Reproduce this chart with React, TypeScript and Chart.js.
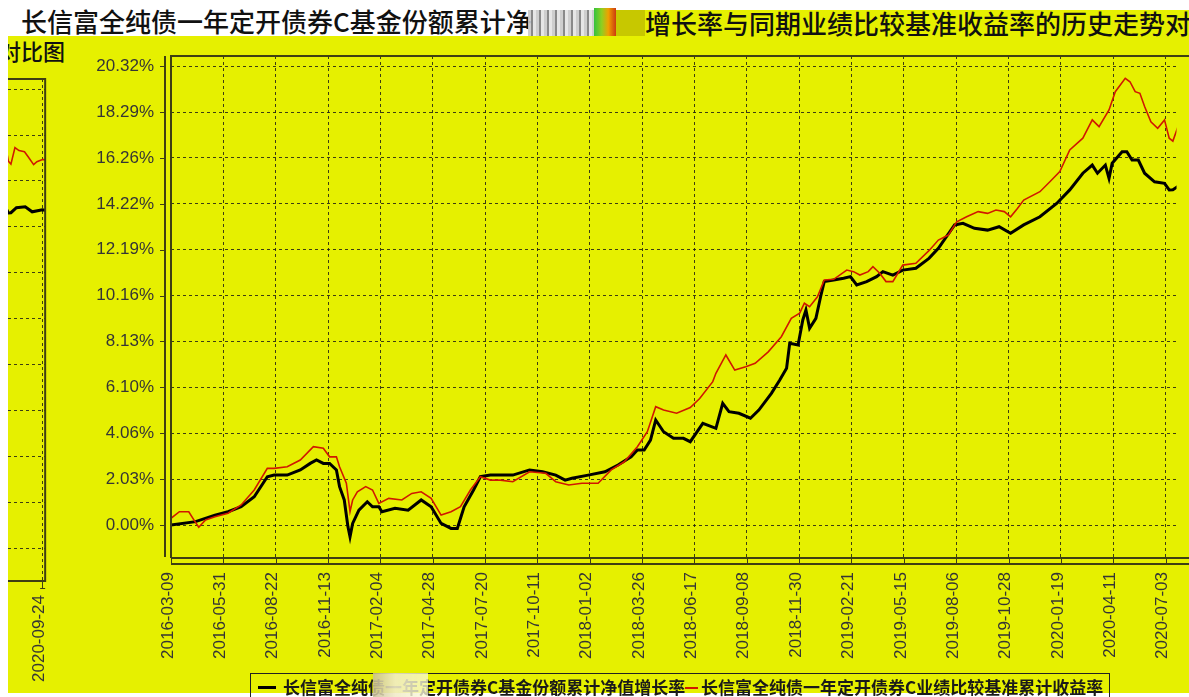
import React, { useEffect, useRef } from "react";
import { Chart, registerables } from "chart.js";

Chart.register(...registerables);

// ---- data ----
const dateLabels = [
  "2016-03-09", "2016-05-31", "2016-08-22", "2016-11-13", "2017-02-04",
  "2017-04-28", "2017-07-20", "2017-10-11", "2018-01-02", "2018-03-26",
  "2018-06-17", "2018-09-08", "2018-11-30", "2019-02-21", "2019-05-15",
  "2019-08-06", "2019-10-28", "2020-01-19", "2020-04-11", "2020-07-03",
  "2020-09-24",
];

const yTickValues = [0, 2.03, 4.06, 6.1, 8.13, 10.16, 12.19, 14.22, 16.26, 18.29, 20.32];

// fund cumulative NAV growth (%), x in label-interval units
const navX = [
  0, 0.47, 0.84, 1.09, 1.34, 1.59, 1.84, 1.97, 2.22, 2.47,
  2.66, 2.78, 2.91, 3.03, 3.16, 3.22, 3.31, 3.38, 3.42, 3.47,
  3.59, 3.75, 3.85, 3.97, 4.03, 4.28, 4.53, 4.78, 4.97, 5.16,
  5.35, 5.47, 5.6, 5.78, 5.91, 6.1, 6.29, 6.53, 6.85, 7.1,
  7.35, 7.53, 7.66, 7.97, 8.29, 8.54, 8.79, 8.91, 9.04, 9.16,
  9.26, 9.41, 9.6, 9.79, 9.92, 10.16, 10.41, 10.54, 10.66, 10.85,
  11.07, 11.23, 11.47, 11.63, 11.76, 11.82, 11.98, 12.07, 12.13, 12.2,
  12.32, 12.41, 12.48, 12.66, 12.85, 12.98, 13.1, 13.29, 13.48, 13.6,
  13.79, 13.98, 14.23, 14.48, 14.66, 14.97, 15.13, 15.35, 15.6, 15.82,
  16.04, 16.29, 16.6, 16.92, 17.17, 17.42, 17.6, 17.7, 17.85, 17.92,
  17.98, 18.17, 18.26, 18.36, 18.48, 18.6, 18.79, 18.98, 19.07, 19.14,
  19.29, 19.53, 19.72, 20.0, 20.1,
];
const navY = [
  0.0, 0.15, 0.44, 0.59, 0.81, 1.25, 2.14, 2.21, 2.21, 2.44,
  2.73, 2.88, 2.73, 2.73, 2.44, 1.7, 1.11, -0.07, -0.52, 0.07,
  0.66, 1.03, 0.81, 0.81, 0.59, 0.74, 0.66, 1.11, 0.81, 0.07,
  -0.15, -0.15, 0.81, 1.55, 2.14, 2.21, 2.21, 2.21, 2.44, 2.36,
  2.21, 1.99, 2.07, 2.21, 2.36, 2.66, 3.02, 3.32, 3.32, 3.76,
  4.65, 4.13, 3.84, 3.84, 3.69, 4.5, 4.28, 5.39, 5.02, 4.95,
  4.73, 5.09, 5.83, 6.42, 6.94, 8.05, 7.97, 9.08, 9.52, 8.71,
  9.15, 10.11, 10.78, 10.85, 10.93, 11.0, 10.63, 10.78, 11.0, 11.22,
  11.07, 11.29, 11.37, 11.81, 12.25, 13.29, 13.36, 13.14, 13.06, 13.21,
  12.92, 13.29, 13.65, 14.24, 14.84, 15.58, 15.94, 15.58, 15.94, 15.35,
  16.02, 16.53, 16.53, 16.16, 16.16, 15.58, 15.2, 15.13, 14.84, 14.85,
  15.07, 15.11, 14.89, 14.98, 14.95,
];

// benchmark cumulative return (%)
const benchX = [
  0, 0.16, 0.34, 0.44, 0.53, 0.66, 0.84, 1.09, 1.34, 1.59,
  1.84, 1.97, 2.22, 2.47, 2.72, 2.91, 3.03, 3.16, 3.22, 3.35,
  3.42, 3.47, 3.56, 3.72, 3.85, 3.97, 4.16, 4.41, 4.6, 4.78,
  4.97, 5.16, 5.35, 5.53, 5.72, 5.91, 6.1, 6.29, 6.53, 6.85,
  7.16, 7.35, 7.6, 7.85, 8.16, 8.41, 8.66, 8.91, 9.1, 9.26,
  9.41, 9.66, 9.92, 10.1, 10.35, 10.41, 10.6, 10.77, 10.98, 11.16,
  11.41, 11.66, 11.85, 12.01, 12.1, 12.2, 12.35, 12.48, 12.66, 12.91,
  13.04, 13.16, 13.32, 13.41, 13.54, 13.66, 13.79, 13.98, 14.23, 14.48,
  14.66, 14.85, 15.01, 15.2, 15.42, 15.6, 15.76, 15.92, 16.04, 16.17,
  16.29, 16.6, 16.79, 16.98, 17.17, 17.42, 17.6, 17.73, 17.92, 18.04,
  18.23, 18.32, 18.42, 18.51, 18.6, 18.72, 18.85, 18.98, 19.07, 19.14,
  19.25, 19.36, 19.51, 19.61, 19.76, 19.85, 20.0, 20.1,
];
const benchY = [
  0.3, 0.59, 0.59, 0.22, -0.1, 0.22, 0.37, 0.52, 0.89, 1.55,
  2.51, 2.51, 2.58, 2.88, 3.47, 3.4, 3.02, 3.02, 2.58, 1.85,
  0.59, 1.11, 1.47, 1.7, 1.55, 0.96, 1.18, 1.11, 1.4, 1.47,
  1.18, 0.44, 0.59, 0.81, 1.55, 2.14, 1.99, 1.99, 1.92, 2.36,
  2.29, 1.92, 1.77, 1.85, 1.85, 2.44, 2.8, 3.47, 4.13, 5.24,
  5.09, 4.95, 5.2, 5.6, 6.35, 6.72, 7.53, 6.86, 7.01, 7.16,
  7.67, 8.34, 9.15, 9.38, 9.82, 9.67, 10.11, 10.85, 10.88, 11.29,
  11.22, 11.07, 11.22, 11.44, 11.15, 10.78, 10.78, 11.51, 11.59, 12.15,
  12.62, 12.84, 13.43, 13.65, 13.88, 13.8, 13.95, 13.88, 13.65, 14.02,
  14.39, 14.76, 15.2, 15.65, 16.61, 17.13, 17.94, 17.64, 18.38, 19.19,
  19.78, 19.63, 19.19, 19.12, 18.53, 17.86, 17.57, 17.94, 17.13, 17.0,
  17.73, 17.6, 17.55, 17.33, 16.98, 17.11, 17.2, 17.2,
];

const titleLeft = "长信富全纯债一年定开债券C基金份额累计净";
const titleRight = "增长率与同期业绩比较基准收益率的历史走势对";
const titleTail = "对比图";
const legendNav = "长信富全纯债一年定开债券C基金份额累计净值增长率";
const legendBench = "长信富全纯债一年定开债券C业绩比较基准累计收益率";

// ---- styles ----
const YELLOW = "#e6f000";
const AXIS = "#3f3f12";
const GRID = "rgba(30,30,20,0.85)";
const TEXT = "#353535";
const RED = "#d01800";
const TICK_FONT = { family: "'Liberation Sans', Arial, sans-serif", size: 17 };

function series(xs: number[], ys: number[]) {
  const n = Math.min(xs.length, ys.length);
  const out: { x: number; y: number }[] = [];
  for (let i = 0; i < n; i++) out.push({ x: xs[i], y: ys[i] });
  return out;
}

function framePlugin(kind: "main" | "mini") {
  return {
    id: "frame-" + kind,
    afterDraw(chart: any) {
      const { ctx, chartArea: a, scales } = chart;
      ctx.save();
      ctx.strokeStyle = AXIS;
      ctx.lineWidth = 2;
      ctx.beginPath();
      if (kind === "main") {
        ctx.moveTo(a.left, a.bottom);
        ctx.lineTo(a.left, a.top);
        ctx.lineTo(a.right + 20, a.top);
        ctx.moveTo(a.left, a.bottom);
        ctx.lineTo(a.right + 20, a.bottom);
        ctx.moveTo(a.left - 6, a.top);
        ctx.lineTo(a.left - 6, a.bottom - 1);
        ctx.moveTo(a.left, a.bottom + 6);
        ctx.lineTo(a.right + 20, a.bottom + 6);
        ctx.stroke();
        ctx.lineWidth = 1;
        ctx.beginPath();
        for (const v of yTickValues) {
          const y = Math.round(scales.y.getPixelForValue(v)) + 0.5;
          ctx.moveTo(a.left - 11, y);
          ctx.lineTo(a.left - 6, y);
        }
        for (const t of scales.x.ticks) {
          const x = Math.round(scales.x.getPixelForValue(t.value)) + 0.5;
          ctx.moveTo(x, a.bottom);
          ctx.lineTo(x, a.bottom + 6);
        }
        ctx.stroke();
      } else {
        ctx.moveTo(a.left - 5, a.top);
        ctx.lineTo(a.right, a.top);
        ctx.lineTo(a.right, a.bottom);
        ctx.lineTo(a.left - 5, a.bottom);
        ctx.stroke();
        ctx.lineWidth = 1;
        ctx.beginPath();
        for (const t of scales.x.ticks) {
          const x = Math.round(scales.x.getPixelForValue(t.value)) + 0.5;
          ctx.moveTo(x, a.bottom);
          ctx.lineTo(x, a.bottom + 8);
        }
        ctx.moveTo(a.right - 5, a.bottom + 7.5);
        ctx.lineTo(a.right, a.bottom + 7.5);
        ctx.stroke();
      }
      ctx.restore();
    },
  };
}

function buildConfig(opts: {
  kind: "main" | "mini";
  xMin: number;
  xMax: number;
  xTickIdx: number[];
  padding: { top: number; left: number; right: number; bottom: number };
  yWidth: number;
  xHeight: number;
}) {
  const showY = opts.kind === "main";
  return {
    type: "line" as const,
    data: {
      datasets: [
        {
          label: legendBench,
          data: series(benchX, benchY),
          borderColor: RED,
          borderWidth: 1.6,
          pointRadius: 0,
          tension: 0,
          order: 1,
        },
        {
          label: legendNav,
          data: series(navX, navY),
          borderColor: "#000000",
          borderWidth: 3,
          pointRadius: 0,
          tension: 0,
          order: 2,
        },
      ],
    },
    options: {
      animation: false as const,
      responsive: false,
      devicePixelRatio: 1,
      events: [],
      layout: { padding: opts.padding },
      plugins: { legend: { display: false }, tooltip: { enabled: false }, title: { display: false } },
      scales: {
        x: {
          type: "linear" as const,
          min: opts.xMin,
          max: opts.xMax,
          afterBuildTicks: (s: any) => {
            s.ticks = opts.xTickIdx.map((v) => ({ value: v }));
          },
          afterFit: (s: any) => {
            s.height = opts.xHeight;
          },
          ticks: {
            autoSkip: false,
            minRotation: 90,
            maxRotation: 90,
            padding: 14,
            labelOffset: -3,
            color: TEXT,
            font: TICK_FONT,
            callback: (v: any) => dateLabels[Math.round(Number(v))] ?? "",
          },
          grid: { color: GRID, lineWidth: 1, drawTicks: false },
          border: { display: false, dash: [3, 3] },
        },
        y: {
          type: "linear" as const,
          min: -1.46,
          max: 20.77,
          afterBuildTicks: (s: any) => {
            s.ticks = yTickValues.map((v) => ({ value: v }));
          },
          afterFit: (s: any) => {
            s.width = opts.yWidth;
          },
          ticks: {
            display: showY,
            padding: 17,
            color: TEXT,
            font: TICK_FONT,
            callback: (v: any) => Number(v).toFixed(2) + "%",
          },
          grid: { color: GRID, lineWidth: 1, drawTicks: false },
          border: { display: false, dash: [3, 3] },
        },
      },
    },
    plugins: [framePlugin(opts.kind)],
  };
}

export default function App() {
  const mainRef = useRef<HTMLCanvasElement>(null);
  const miniRef = useRef<HTMLCanvasElement>(null);

  useEffect(() => {
    const charts: Chart[] = [];
    if (mainRef.current) {
      charts.push(
        new Chart(
          mainRef.current,
          buildConfig({
            kind: "main",
            xMin: 0,
            xMax: 19.21,
            xTickIdx: dateLabels.slice(0, 20).map((_, i) => i),
            padding: { top: 56, left: 0, right: 5, bottom: 0 },
            yWidth: 171,
            xHeight: 139,
          }) as any
        )
      );
    }
    if (miniRef.current) {
      charts.push(
        new Chart(
          miniRef.current,
          buildConfig({
            kind: "mini",
            xMin: 19.06,
            xMax: 20.075,
            xTickIdx: [20],
            padding: { top: 79, left: 0, right: 16, bottom: 0 },
            yWidth: 0,
            xHeight: 116,
          }) as any
        )
      );
    }
    return () => charts.forEach((c) => c.destroy());
  }, []);

  const cjk = "'Noto Sans CJK SC', 'Noto Sans', sans-serif";

  return (
    <div
      style={{
        position: "fixed",
        left: 0,
        top: 0,
        width: 1189,
        height: 697,
        overflow: "hidden",
        background: "#ffffff",
      }}
    >
      {/* yellow panels */}
      <div style={{ position: "absolute", left: 8, top: 36, width: 1181, height: 657, background: YELLOW, overflow: "hidden" }}>
        <div
          style={{
            position: "absolute",
            left: -9,
            top: 3,
            fontFamily: cjk,
            fontSize: 22,
            lineHeight: "22px",
            fontWeight: 500,
            color: "#111",
            whiteSpace: "nowrap",
          }}
        >
          {titleTail}
        </div>
      </div>
      <div style={{ position: "absolute", left: 595, top: 10, width: 594, height: 30, background: YELLOW }} />

      {/* title */}
      <div
        style={{
          position: "absolute",
          left: 21,
          top: 8,
          fontFamily: cjk,
          fontSize: 26,
          lineHeight: "26px",
          fontWeight: 500,
          color: "#111",
          whiteSpace: "nowrap",
        }}
      >
        {titleLeft}
      </div>
      <div
        style={{
          position: "absolute",
          left: 645,
          top: 10,
          fontFamily: cjk,
          fontSize: 26,
          lineHeight: "26px",
          fontWeight: 500,
          color: "#111",
          whiteSpace: "nowrap",
        }}
      >
        {titleRight}
      </div>
      {/* title glitch */}
      <div
        style={{
          position: "absolute",
          left: 528,
          top: 10,
          width: 66,
          height: 26,
          background:
            "repeating-linear-gradient(90deg, #c9c9c9 0 3px, #7d7d7d 3px 5px, #e4e4e4 5px 8px), #aaa",
          opacity: 0.9,
        }}
      />
      <div
        style={{
          position: "absolute",
          left: 594,
          top: 8,
          width: 22,
          height: 28,
          background: "linear-gradient(90deg, #35c23d 0%, #8fcf20 35%, #f0a000 65%, #cc3a10 100%)",
        }}
      />
      <div style={{ position: "absolute", left: 616, top: 10, width: 29, height: 26, background: "#c7c800" }} />

      {/* charts */}
      <canvas
        ref={miniRef}
        width={70}
        height={697}
        style={{ position: "absolute", left: 8, top: 0, width: 70, height: 697 }}
      />
      <canvas
        ref={mainRef}
        width={1200}
        height={697}
        style={{ position: "absolute", left: 0, top: 0, width: 1200, height: 697 }}
      />

      {/* legend */}
      <div
        style={{
          position: "absolute",
          left: 250,
          top: 673,
          width: 860,
          height: 40,
          border: "1px solid #222",
          boxSizing: "border-box",
        }}
      />
      <div style={{ position: "absolute", left: 258, top: 686, width: 18, height: 3, background: "#000" }} />
      <div
        style={{
          position: "absolute",
          left: 283,
          top: 678,
          fontFamily: cjk,
          fontSize: 17,
          lineHeight: "17px",
          fontWeight: 700,
          color: "#1a1a1a",
          whiteSpace: "nowrap",
        }}
      >
        {legendNav}
      </div>
      <div style={{ position: "absolute", left: 685, top: 687, width: 13, height: 2, background: RED }} />
      <div
        style={{
          position: "absolute",
          left: 701,
          top: 678,
          fontFamily: cjk,
          fontSize: 17,
          lineHeight: "17px",
          fontWeight: 700,
          color: "#1a1a1a",
          whiteSpace: "nowrap",
        }}
      >
        {legendBench}
      </div>
      <div
        style={{
          position: "absolute",
          left: 373,
          top: 673,
          width: 55,
          height: 24,
          background:
            "linear-gradient(90deg, rgba(200,190,150,0.85) 0%, rgba(240,235,200,0.9) 40%, rgba(250,250,220,0.75) 100%)",
        }}
      />
      <div style={{ position: "absolute", left: 0, top: 693, width: 250, height: 4, background: "#fff" }} />
      <div style={{ position: "absolute", left: 1111, top: 693, width: 78, height: 4, background: "#fff" }} />
    </div>
  );
}
